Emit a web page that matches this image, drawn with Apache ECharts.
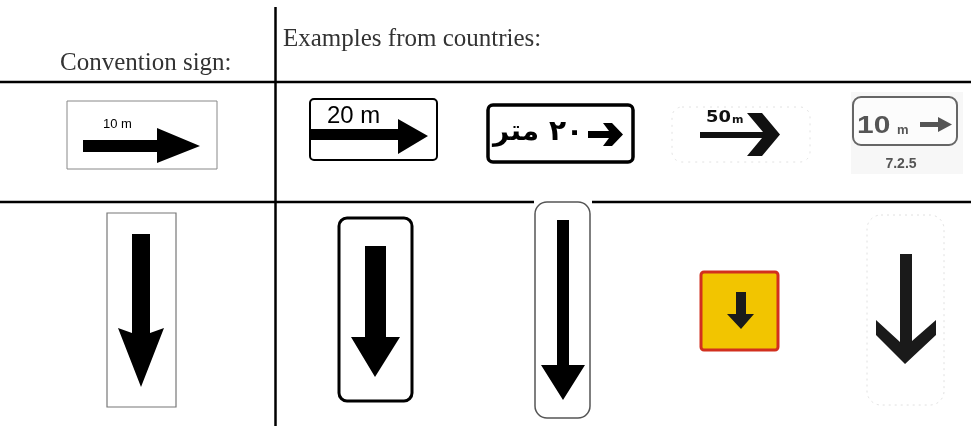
<!DOCTYPE html>
<html>
<head>
<meta charset="utf-8">
<script src="https://cdn.jsdelivr.net/npm/echarts@6/dist/echarts.min.js"></script>
<style>html,body{margin:0;padding:0;background:#fff}#c{width:971px;height:426px}</style>
</head>
<body>
<div id="c"></div>
<script>
// Texts shown in the table
const headerTexts = ['Convention sign:', 'Examples from countries:'];
const row1Labels = ['10 m', '20 m', '٢٠ متر', '50', 'm', '10', 'm'];
const signCode = ['7.2.5'];

const chart = echarts.init(document.getElementById('c'), null, {renderer: 'canvas'});

function line(x1, y1, x2, y2, w, c) {
  return {type: 'line', silent: true, shape: {x1, y1, x2, y2}, style: {stroke: c || '#000', lineWidth: w || 2.5}};
}
function rect(x, y, w, h, r, stroke, lw, fill, dash) {
  return {type: 'rect', silent: true, shape: {x, y, width: w, height: h, r: r || 0},
    style: {stroke: stroke, lineWidth: lw, fill: fill || '#fff', lineDash: dash || null}};
}
function poly(points, fill) {
  return {type: 'polygon', silent: true, shape: {points}, style: {fill: fill || '#000'}};
}
function text(t, x, y, font, fill, align, sx) {
  return {type: 'text', silent: true, x, y, scaleX: sx || 1,
    style: {text: t, font, fill: fill || '#000', align: align || 'left', verticalAlign: 'middle'}};
}

const serif = "25px 'Liberation Serif', 'Times New Roman', serif";
const els = [
  // table rules
  line(0, 82, 971, 82),
  line(0, 202, 534, 202),
  line(592, 202, 971, 202),
  line(275.5, 7, 275.5, 426),
  // headers
  text(headerTexts[0], 60, 63.6, serif, '#333'),
  text(headerTexts[1], 283, 39.6, serif, '#333'),

  // ---- row 1 ----
  // convention sign
  rect(67, 101, 150, 68, 0, '#888', 1),
  text(row1Labels[0], 103, 124, "13px 'Liberation Sans', Arial, sans-serif", '#000'),
  poly([[83,140],[157,140],[157,128],[200,146],[157,163],[157,152],[83,152]]),
  // 20 m
  rect(310, 99, 127, 61, 4, '#000', 2),
  text(row1Labels[1], 327, 117, "23px 'Liberation Sans', Arial, sans-serif", '#000', 'left', 1.04),
  poly([[310,129],[398,129],[398,119],[428,136],[398,154],[398,140],[310,140]]),
  // Arabic
  rect(488, 105, 145, 57, 5, '#000', 3.5),
  text(row1Labels[2], 493, 133, "bold 28px 'DejaVu Sans', sans-serif", '#000'),
  poly([[588,131],[609,131],[603,123],[612,123],[623,134.5],[612,146],[603,146],[609,138],[588,138]]),
  // 50 m
  rect(672, 107, 138, 55, 10, '#e2e2e2', 1, '#fff', [2, 5]),
  text(row1Labels[3], 706, 118, "bold 16px 'DejaVu Sans', sans-serif", '#111', 'left', 1.12),
  text(row1Labels[4], 732, 120, "bold 11px 'DejaVu Sans', sans-serif", '#111'),
  poly([[700,132],[763,132],[747,113],[762,113],[780,134.5],[762,156],[747,156],[762,138],[700,138]], '#111'),
  // 10 m / 7.2.5
  rect(851, 92, 112, 82, 0, null, 0, '#f7f7f7'),
  rect(853, 97, 104, 48, 8, '#666', 2, '#fcfcfc'),
  text(row1Labels[5], 857, 127, "bold 23px 'Liberation Sans', Arial, sans-serif", '#555', 'left', 1.3),
  text(row1Labels[6], 897, 130, "bold 13px 'Liberation Sans', Arial, sans-serif", '#555'),
  poly([[920,122],[938,122],[938,117],[952,124.5],[938,132],[938,127],[920,127]], '#555'),
  text(signCode[0], 901, 164.5, "bold 14px 'Liberation Sans', Arial, sans-serif", '#555', 'center'),

  // ---- row 2 ----
  // convention
  rect(107, 213, 69, 194, 0, '#777', 1.2),
  poly([[132,234],[150,234],[150,333],[164,328],[141,387],[118,328],[132,333]]),
  // black rounded
  rect(339, 218, 73, 183, 8, '#000', 3),
  poly([[365,246],[386,246],[386,337],[400,337],[375,377],[351,337],[365,337]]),
  // tall thin
  rect(535, 202, 55, 216, 12, '#555', 1.5),
  poly([[557,220],[569,220],[569,365],[585,365],[563,400],[541,365],[557,365]]),
  // yellow
  rect(701, 272, 77, 78, 3, '#d2301e', 3, '#f2c500'),
  poly([[736,292],[746,292],[746,314],[754,314],[741,329],[727,314],[736,314]], '#1a1a1a'),
  // faint rounded with chevron
  rect(867, 215, 77, 190, 14, '#e0e0e0', 1, '#fff', [2, 4]),
  poly([[900,254],[912,254],[912,341],[936,320],[936,335],[905,364],[876,335],[876,320],[900,342]], '#1a1a1a')
];

chart.setOption({
  animation: false,
  backgroundColor: '#fff',
  graphic: {elements: els}
});
</script>
</body>
</html>
